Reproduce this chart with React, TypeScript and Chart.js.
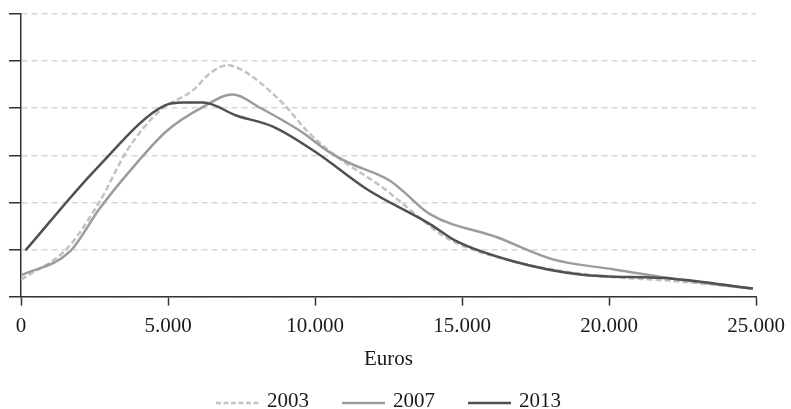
import React, { useEffect, useRef } from "react";
import { Chart, registerables } from "chart.js";

Chart.register(...registerables);

const seriesNames = ["2003", "2007", "2013"];
const seriesColors = ["#c2c2c2", "#9c9c9c", "#505050"];
const seriesDash: number[][] = [[6, 3], [], []];

const x2003 = [0, 1565, 2687, 3605, 4727, 5850, 6428, 7006, 7550, 8911, 9727, 10611, 12312, 13570, 14489, 16734, 19250, 22413, 24895];
const y2003 = [0.36, 1.02, 2.03, 3.1, 3.95, 4.38, 4.74, 4.91, 4.8, 4.1, 3.52, 3.03, 2.31, 1.67, 1.24, 0.75, 0.47, 0.32, 0.17];

const x2007 = [0, 1667, 2687, 3707, 4966, 6088, 7210, 8128, 9489, 10407, 11087, 12550, 12992, 13910, 16189, 18094, 20134, 22175, 24895];
const y2007 = [0.45, 0.96, 1.88, 2.67, 3.52, 3.99, 4.29, 4.01, 3.52, 3.1, 2.86, 2.46, 2.24, 1.75, 1.26, 0.79, 0.58, 0.38, 0.17];

const x2013 = [150, 2585, 4898, 5510, 6190, 7346, 8571, 10067, 11768, 13910, 14829, 16734, 19012, 22175, 24895];
const y2013 = [0.98, 2.73, 4.06, 4.12, 4.12, 3.84, 3.61, 3.05, 2.28, 1.54, 1.17, 0.75, 0.47, 0.38, 0.17];

const xTickValues = [0, 5000, 10000, 15000, 20000, 25000];
const xTitle = "Euros";

const FONT = "'Liberation Serif', 'DejaVu Serif', serif";
const FONT_SIZE = 21;

function pts(xs: number[], ys: number[]) {
  return xs.map((x, i) => ({ x, y: ys[i] }));
}

function fmt(v: number) {
  return String(v).replace(/\B(?=(\d{3})+(?!\d))/g, ".");
}

const seriesData = [pts(x2003, y2003), pts(x2007, y2007), pts(x2013, y2013)];

export default function App() {
  const ref = useRef<HTMLCanvasElement | null>(null);
  useEffect(() => {
    document.body.style.margin = "0";
    const ctx = ref.current!.getContext("2d")!;
    const chart = new Chart(ctx, {
      type: "line",
      data: {
        datasets: seriesNames.map((name, i) => ({
          label: name,
          data: seriesData[i],
          borderColor: seriesColors[i],
          borderWidth: 2.5,
          borderDash: seriesDash[i],
          pointRadius: 0,
          cubicInterpolationMode: "monotone",
          order: 2 - i,
        })),
      },
      options: {
        animation: false,
        responsive: false,
        maintainAspectRatio: false,
        layout: { padding: { left: 9, right: 35, top: 14, bottom: 34 } },
        plugins: {
          tooltip: { enabled: false },
          legend: { display: false },
        },
        scales: {
          x: {
            type: "linear",
            min: 0,
            max: 25000,
            afterBuildTicks: (s: any) => {
              s.ticks = xTickValues.map((v) => ({ value: v }));
            },
            afterFit: (s: any) => {
              s.paddingRight = 0;
              s.paddingLeft = 0;
            },
            ticks: {
              color: "#1a1a1a",
              font: { family: FONT, size: FONT_SIZE },
              padding: 8,
              maxRotation: 0,
              callback: (v: any) => fmt(Number(v)),
            },
            grid: {
              drawOnChartArea: false,
              drawTicks: true,
              tickLength: 9,
              tickColor: "#333",
              tickWidth: 1.5,
            },
            border: { display: true, color: "#333", width: 1.5 },
            title: {
              display: true,
              text: xTitle,
              color: "#1a1a1a",
              font: { family: FONT, size: FONT_SIZE },
              padding: { top: 0, bottom: 3 },
            },
          },
          y: {
            min: 0,
            max: 6,
            ticks: { display: false, stepSize: 1 },
            grid: {
              color: "#d6d6d6",
              lineWidth: 1.5,
              drawTicks: true,
              tickLength: 12,
              tickColor: "#333",
              tickWidth: 1.5,
              tickBorderDash: [],
            },
            border: { display: true, color: "#333", width: 1.5, dash: [6, 4] },
          },
        },
      },
    } as any);
    return () => chart.destroy();
  }, []);
  return (
    <div style={{ position: "absolute", left: 0, top: 0, width: 791, height: 409, background: "#fff", overflow: "hidden" }}>
      <canvas ref={ref} width={791} height={409} style={{ display: "block" }} />
      <div
        style={{
          position: "absolute",
          left: 21,
          width: 735,
          top: 390,
          height: 21,
          display: "flex",
          justifyContent: "center",
          alignItems: "flex-start",
          gap: 33,
          fontFamily: FONT,
          fontSize: FONT_SIZE,
          lineHeight: "21px",
          color: "#1a1a1a",
        }}
      >
        {seriesNames.map((name, i) => (
          <div key={name} style={{ display: "flex", alignItems: "flex-start", height: 21 }}>
            <svg width={43} height={21} style={{ display: "block", marginRight: 8 }}>
              <line
                x1={0}
                y1={13}
                x2={43}
                y2={13}
                stroke={seriesColors[i]}
                strokeWidth={2.5}
                strokeDasharray={seriesDash[i].length ? "5 2.5" : undefined}
              />
            </svg>
            <span style={{ whiteSpace: "nowrap" }}>{name}</span>
          </div>
        ))}
      </div>
    </div>
  );
}
